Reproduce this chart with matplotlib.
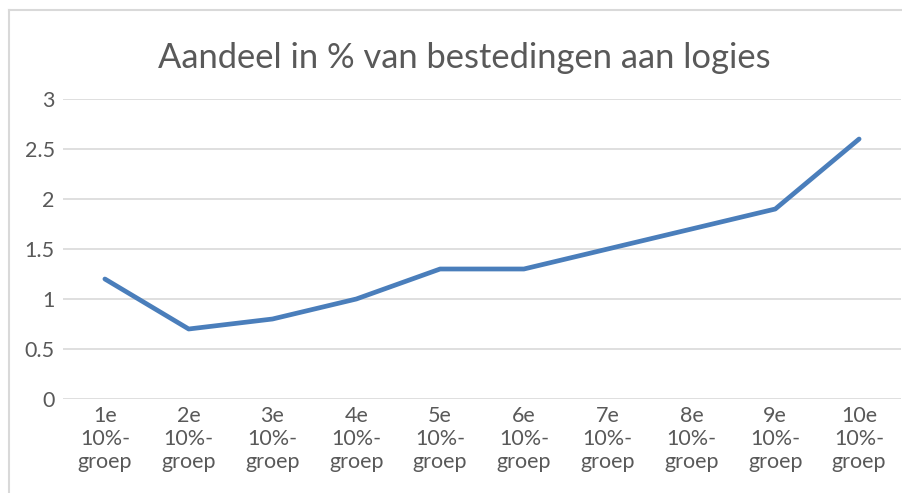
import numpy as np
import matplotlib.pyplot as plt
from matplotlib.lines import Line2D

# data
categories = [f"{i}e\n10%-\ngroep" for i in range(1, 11)]
values = [1.2, 0.7, 0.8, 1.0, 1.3, 1.3, 1.5, 1.7, 1.9, 2.6]
yticks = [0, 0.5, 1, 1.5, 2, 2.5, 3]
ytick_labels = ["0", "0.5", "1", "1.5", "2", "2.5", "3"]

plt.rcParams['font.family'] = ['Lato', 'DejaVu Sans']
text_color = '#595959'
grid_color = '#d9d9d9'

W, H = 903, 493
fig = plt.figure(figsize=(W / 100, H / 100), dpi=100)

# chart frame (cropped on right and bottom)
fig.add_artist(Line2D([8.5 / W, 8.5 / W], [0, 1 - 10 / H], transform=fig.transFigure,
                      color=grid_color, lw=1.5))
fig.add_artist(Line2D([8.5 / W, 1], [1 - 10 / H, 1 - 10 / H], transform=fig.transFigure,
                      color=grid_color, lw=1.5))

left, right = 63 / W, 901 / W
bottom, top = (H - 399) / H, (H - 99) / H
ax = fig.add_axes([left, bottom, right - left, top - bottom])

x = np.arange(len(values))
ax.plot(x, values, color='#4a7ebb', lw=3.4, solid_capstyle='round', solid_joinstyle='round')

ax.set_xlim(-0.5, len(values) - 0.5)
ax.set_ylim(0, 3)
ax.set_yticks(yticks)
ax.set_yticklabels(ytick_labels)
ax.set_xticks(x)
ax.set_xticklabels(categories, linespacing=1.2)
ax.grid(axis='y', color=grid_color, lw=1.2)
ax.set_axisbelow(True)
for s in ax.spines.values():
    s.set_visible(False)
ax.tick_params(axis='both', length=0, colors=text_color, labelsize=15.5)
ax.tick_params(axis='y', pad=6)
ax.tick_params(axis='x', pad=5)

fig.text(464 / W, 1 - 58 / H, "Aandeel in % van bestedingen aan logies",
         ha='center', va='center', fontsize=24.8, color=text_color)

fig.savefig("out.png", dpi=100)
